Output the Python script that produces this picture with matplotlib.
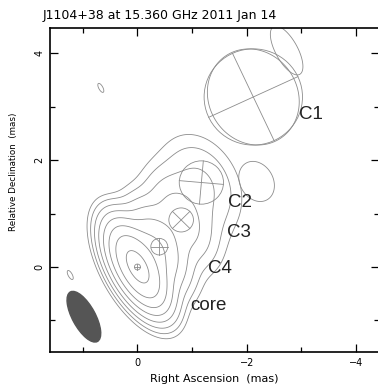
import numpy as np
from matplotlib import pyplot as plt
from matplotlib.patches import Ellipse

# restoring beam (mas, deg east of north) and its position on the map
beam_maj, beam_min, beam_pa = 1.05, 0.42, 28.0
beam_ra, beam_dec = 0.98, -0.93

# model components (relative RA/Dec in mas, FWHM in mas, flux relative to core)
comp_names = ["core", "C4", "C3", "C2", "C1"]
comp_ra = [0.0, -0.40, -0.80, -1.17, -2.12]
comp_dec = [0.0, 0.38, 0.88, 1.58, 3.18]
comp_size = [0.11, 0.31, 0.45, 0.81, 1.80]
comp_flux = [0.10, 0.15, 0.06, 0.05, 0.066]
comp_group = [0, 0, 0, 0, 1]
comp_cross = [0, 0, 45, 85, 25]   # orientation of the cross in each circle

# faint / extended emission not fitted by a component
extra_ra = [0.0, -0.75, -2.73, -2.18, 0.67, 1.23]
extra_dec = [0.0, 0.85, 4.05, 1.60, 3.35, -0.15]
extra_size = [0.30, 0.90, 0.0, 1.10, 0.0, 0.0]
extra_flux = [0.80, 0.04, 0.0084, 0.0215, 0.0045, 0.0045]
extra_group = [0, 0, 2, 3, 4, 5]

lowest = 0.0044
levels = lowest * 2.0 ** np.arange(9)

comp_label = ["core", "C4", "C3", "C2", "C1"]
label_ra = [-0.97, -1.29, -1.63, -1.66, -2.96]
label_dec = [-0.80, -0.12, 0.555, 1.13, 2.76]


def restored(x, y, ra, dec, size, flux):
    pa = np.radians(beam_pa)
    mj = np.sqrt(beam_maj**2 + size**2)
    mn = np.sqrt(beam_min**2 + size**2)
    dx, dy = x - ra, y - dec
    u = dx * np.sin(pa) + dy * np.cos(pa)
    v = dx * np.cos(pa) - dy * np.sin(pa)
    peak = flux * beam_maj * beam_min / (mj * mn)
    return peak * np.exp(-4 * np.log(2) * (u**2 / mj**2 + v**2 / mn**2))


gx = np.linspace(1.7, -4.5, 500)
gy = np.linspace(-1.7, 4.6, 500)
X, Y = np.meshgrid(gx, gy)
all_ra = comp_ra + extra_ra
all_dec = comp_dec + extra_dec
all_size = comp_size + extra_size
all_flux = comp_flux + extra_flux
all_group = comp_group + extra_group

fig = plt.figure(figsize=(3.78, 3.85), dpi=100)
ax = fig.add_axes([50 / 378, 1 - 352 / 385, 329 / 378, 324 / 385])

# each emission region is contoured on its own
for g in sorted(set(all_group)):
    img = np.zeros_like(X)
    for r, d, s, f, gg in zip(all_ra, all_dec, all_size, all_flux, all_group):
        if gg == g:
            img += restored(X, Y, r, d, s, f)
    ax.contour(X, Y, img, levels=levels, colors="#8c8c8c", linewidths=0.6)

for r, d, s, a in zip(comp_ra, comp_dec, comp_size, comp_cross):
    ax.add_patch(Ellipse((r, d), s, s, fill=False, ec="#8c8c8c", lw=0.6))
    for t in (a, a + 90):
        cx = -0.5 * s * np.cos(np.radians(t))
        cy = 0.5 * s * np.sin(np.radians(t))
        ax.plot([r - cx, r + cx], [d - cy, d + cy], color="#8c8c8c", lw=0.6)

ax.add_patch(Ellipse((beam_ra, beam_dec), beam_min, beam_maj, angle=-beam_pa,
                     fc="#555555", ec="#555555"))

for lab, r, d in zip(comp_label, label_ra, label_dec):
    ax.text(r, d, lab, fontsize=13.5, family="Liberation Sans", color="#222222",
            ha="left", va="baseline")

ax.set_xlim(1.6, -4.42)
ax.set_ylim(-1.59, 4.47)
ax.set_xticks([0, -2, -4])
ax.set_xticks([1, -1, -3], minor=True)
ax.set_xticklabels(["0", "\u22122", "\u22124"])
ax.set_yticks([0, 2, 4])
ax.set_yticks([-1, 1, 3], minor=True)
ax.set_yticklabels(["0", "2", "4"], rotation=90, va="center")
ax.tick_params(which="both", direction="in", top=True, right=True,
               labelsize=7, width=0.9, pad=4)
ax.tick_params(which="major", length=6)
ax.tick_params(which="minor", length=3.5)
for sp in ax.spines.values():
    sp.set_linewidth(1.2)

ax.set_xlabel("Right Ascension  (mas)", fontsize=8)
ax.xaxis.set_label_coords(0.5, -0.068)
ax.set_ylabel("Relative Declination  (mas)", fontsize=6.3)
ax.yaxis.set_label_coords(-0.098, 0.555)
fig.text(43 / 378, 1 - 15 / 385, "J1104+38 at 15.360 GHz 2011 Jan 14",
         fontsize=9, va="center", ha="left")

fig.savefig("out.png", dpi=100)
